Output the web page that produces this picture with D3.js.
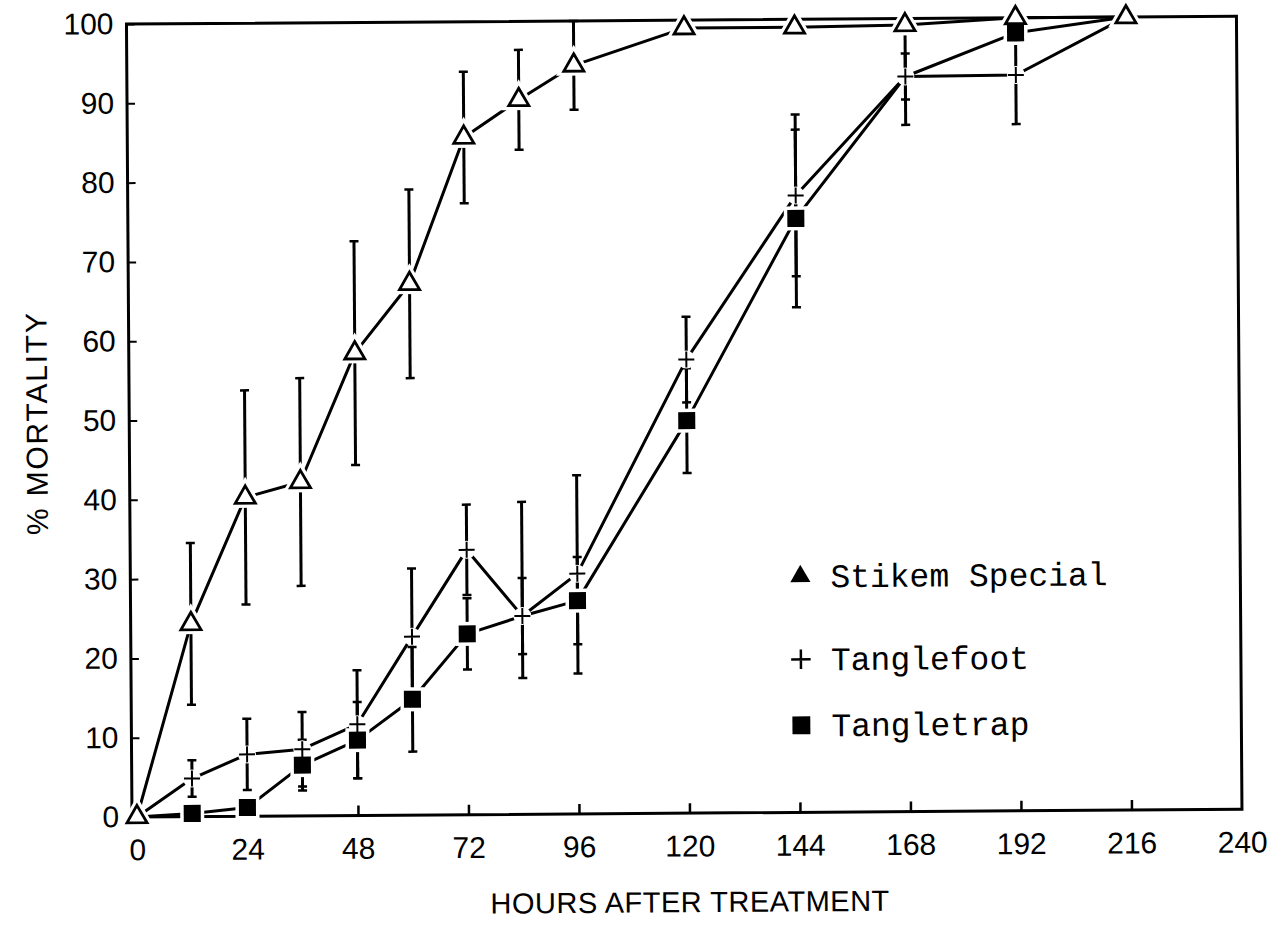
<!DOCTYPE html>
<html>
<head>
<meta charset="utf-8">
<script src="https://cdn.jsdelivr.net/npm/d3@7"></script>
<style>
  html, body { margin: 0; padding: 0; background: #fff; }
  svg { display: block; }
</style>
</head>
<body>
<svg id="chart" width="1269" height="932"></svg>
<script>
// ---- data ----
const hours = [0, 12, 24, 36, 48, 60, 72, 84, 96, 120, 144, 168, 192, 216];
const stikem        = [0, 24.3, 40.2, 42.1, 58.3, 67.0, 85.4, 90.1, 94.4, 99.0, 99.0, 99.2, 100, 100];
const stikemErr     = [0, 10.2, 13.5, 13.1, 14.1, 11.9, 8.3, 6.3, 5.6, 0, 0, 0, 0, 0];
const tanglefoot    = [0, 4.8, 7.8, 8.4, 11.5, 22.5, 33.4, 25.0, 30.3, 57.2, 77.8, 92.7, 92.8, 100];
const tanglefootErrUp  = [0, 2.3, 4.5, 4.7, 6.8, 8.6, 5.7, 14.4, 12.4, 5.4, 10.2, 6.1, 6.2, 0];
const tanglefootErrLow = [0, 2.3, 4.5, 4.7, 6.8, 8.6, 5.7, 7.8, 12.6, 5.4, 10.2, 6.1, 6.2, 0];
const tangletrap    = [0, 0.4, 1.1, 6.4, 9.5, 14.6, 22.8, 25.0, 26.9, 49.5, 74.9, 92.7, 98.1, 100];
const tangletrapErr = [0, 0, 0, 3.2, 4.8, 6.6, 4.5, 4.8, 5.5, 6.6, 11.2, 2.9, 0, 0];
// points whose marker is not visible in the reference (hidden under another marker)
const tanglefootHidden = [0, 13];
const tangletrapHidden = [0, 7, 11, 13];
const xTicks = [0, 24, 48, 72, 96, 120, 144, 168, 192, 216, 240];
const yTicks = [0, 10, 20, 30, 40, 50, 60, 70, 80, 90, 100];
const seriesNames = ["Stikem Special", "Tanglefoot", "Tangletrap"];
const xTitle = "HOURS AFTER TREATMENT";
const yTitle = "% MORTALITY";

// ---- setup ----
const svg = d3.select("#chart");
const x = d3.scaleLinear().domain([0, 240]).range([137, 1242]);
const y = d3.scaleLinear().domain([0, 100]).range([817, 24]);

// scanned page is slightly rotated
const root = svg.append("g").attr("transform", `rotate(-0.4, ${x(0)}, ${y(0)})`);

const plusType = {
  draw(ctx, size) {
    const r = Math.sqrt(size) / 2;
    ctx.moveTo(-r, 0); ctx.lineTo(r, 0);
    ctx.moveTo(0, -r); ctx.lineTo(0, r);
  }
};

// ---- frame ----
root.append("rect")
  .attr("x", x(0) - 5).attr("y", y(100))
  .attr("width", x(240) - x(0) + 5).attr("height", y(0) - y(100))
  .attr("fill", "none").attr("stroke", "#000").attr("stroke-width", 3);

// ---- axes ----
const yAxis = d3.axisLeft(y).tickValues(yTicks).tickSizeInner(-8).tickSizeOuter(0).tickPadding(13);
const gy = root.append("g").attr("transform", `translate(${x(0) - 5},0)`).call(yAxis);
gy.select(".domain").remove();
gy.selectAll("line").attr("stroke", "#000").attr("stroke-width", 2);
gy.selectAll("text").attr("font-family", "'Liberation Sans', Arial, sans-serif")
  .attr("font-size", 30).attr("fill", "#000");

const xAxis = d3.axisBottom(x).tickValues(xTicks).tickSizeInner(-10).tickSizeOuter(0).tickPadding(22);
const gx = root.append("g").attr("transform", `translate(0,${y(0)})`).call(xAxis);
gx.select(".domain").remove();
gx.selectAll(".tick").filter(d => d === 0 || d === 240).select("line").remove();
gx.selectAll("line").attr("stroke", "#000").attr("stroke-width", 2.5);
gx.selectAll("text").attr("font-family", "'Liberation Sans', Arial, sans-serif")
  .attr("font-size", 30).attr("fill", "#000");

// ---- titles ----
root.append("text")
  .attr("x", (x(0) + x(240)) / 2).attr("y", 916)
  .attr("text-anchor", "middle")
  .attr("font-family", "'Liberation Sans', Arial, sans-serif")
  .attr("font-size", 29).attr("letter-spacing", 0.5)
  .text(xTitle);

root.append("text")
  .attr("transform", `translate(50,${(y(0) + y(100)) / 2 + 2}) rotate(-90)`)
  .attr("text-anchor", "middle")
  .attr("font-family", "'Liberation Sans', Arial, sans-serif")
  .attr("font-size", 30).attr("letter-spacing", 1.8)
  .text(yTitle);

// ---- series ----
const series = [
  { name: seriesNames[0], vals: stikem, up: stikemErr, low: stikemErr, hidden: [], kind: "tri" },
  { name: seriesNames[1], vals: tanglefoot, up: tanglefootErrUp, low: tanglefootErrLow, hidden: tanglefootHidden, kind: "plus" },
  { name: seriesNames[2], vals: tangletrap, up: tangletrapErr, low: tangletrapErr, hidden: tangletrapHidden, kind: "sq" }
];

const line = d3.line().x(d => x(d[0])).y(d => y(d[1]));
const gLines = root.append("g");
series.forEach(s => {
  gLines.append("path")
    .datum(hours.map((h, i) => [h, s.vals[i]]))
    .attr("d", line)
    .attr("fill", "none").attr("stroke", "#000").attr("stroke-width", 3)
    .attr("stroke-linejoin", "round");
});

// error bars
const gErr = root.append("g").attr("stroke", "#000");
series.forEach(s => {
  hours.forEach((h, i) => {
    const eu = s.up[i], el = s.low[i];
    if (!eu && !el) return;
    const cx = x(h), y1 = y(s.vals[i] + eu), y2 = y(s.vals[i] - el);
    gErr.append("line").attr("x1", cx).attr("x2", cx).attr("y1", y1).attr("y2", y2).attr("stroke-width", 3);
    gErr.append("line").attr("x1", cx - 4.5).attr("x2", cx + 4.5).attr("y1", y1).attr("y2", y1).attr("stroke-width", 2.5);
    gErr.append("line").attr("x1", cx - 4.5).attr("x2", cx + 4.5).attr("y1", y2).attr("y2", y2).attr("stroke-width", 2.5);
  });
});

// marker halos (white knock-outs) then markers
const triSym = d3.symbol().type(d3.symbolTriangle).size(175);
const sqSym = d3.symbol().type(d3.symbolSquare).size(290);
const plusSym = d3.symbol().type(plusType).size(256);

const gHalo = root.append("g");
const gMark = root.append("g");
series.forEach(s => {
  hours.forEach((h, i) => {
    if (s.hidden.includes(i)) return;
    const t = `translate(${x(h)},${y(s.vals[i])})`;
    if (s.kind === "tri") {
      gHalo.append("path").attr("d", triSym()).attr("transform", t)
        .attr("fill", "#fff").attr("stroke", "#fff").attr("stroke-width", 9);
      gMark.append("path").attr("d", triSym()).attr("transform", t)
        .attr("fill", "#fff").attr("stroke", "#000").attr("stroke-width", 2.8)
        .attr("stroke-linejoin", "miter");
    } else if (s.kind === "sq") {
      gHalo.append("path").attr("d", sqSym()).attr("transform", t)
        .attr("fill", "#fff").attr("stroke", "#fff").attr("stroke-width", 7);
      gMark.append("path").attr("d", sqSym()).attr("transform", t).attr("fill", "#000");
    } else {
      gHalo.append("circle").attr("r", 9).attr("transform", t).attr("fill", "#fff");
      gMark.append("path").attr("d", plusSym()).attr("transform", t)
        .attr("fill", "none").attr("stroke", "#000").attr("stroke-width", 2);
    }
  });
});

// ---- legend ----
const legendRows = [
  { name: seriesNames[0], kind: "tri", cy: 581 },
  { name: seriesNames[1], kind: "plus", cy: 664 },
  { name: seriesNames[2], kind: "sq", cy: 730 }
];
const gLeg = root.append("g");
legendRows.forEach(r => {
  const t = `translate(802,${r.cy})`;
  if (r.kind === "tri") {
    gLeg.append("path").attr("d", d3.symbol().type(d3.symbolTriangle).size(175)()).attr("transform", t).attr("fill", "#000");
  } else if (r.kind === "plus") {
    gLeg.append("path").attr("d", d3.symbol().type(plusType).size(380)()).attr("transform", t)
      .attr("fill", "none").attr("stroke", "#000").attr("stroke-width", 2.5);
  } else {
    gLeg.append("path").attr("d", d3.symbol().type(d3.symbolSquare).size(320)()).attr("transform", t).attr("fill", "#000");
  }
  gLeg.append("text")
    .attr("x", 832).attr("y", r.cy + 11)
    .attr("font-family", "'Liberation Mono', 'DejaVu Sans Mono', monospace")
    .attr("font-size", 33).attr("fill", "#000")
    .text(r.name);
});
</script>
</body>
</html>
